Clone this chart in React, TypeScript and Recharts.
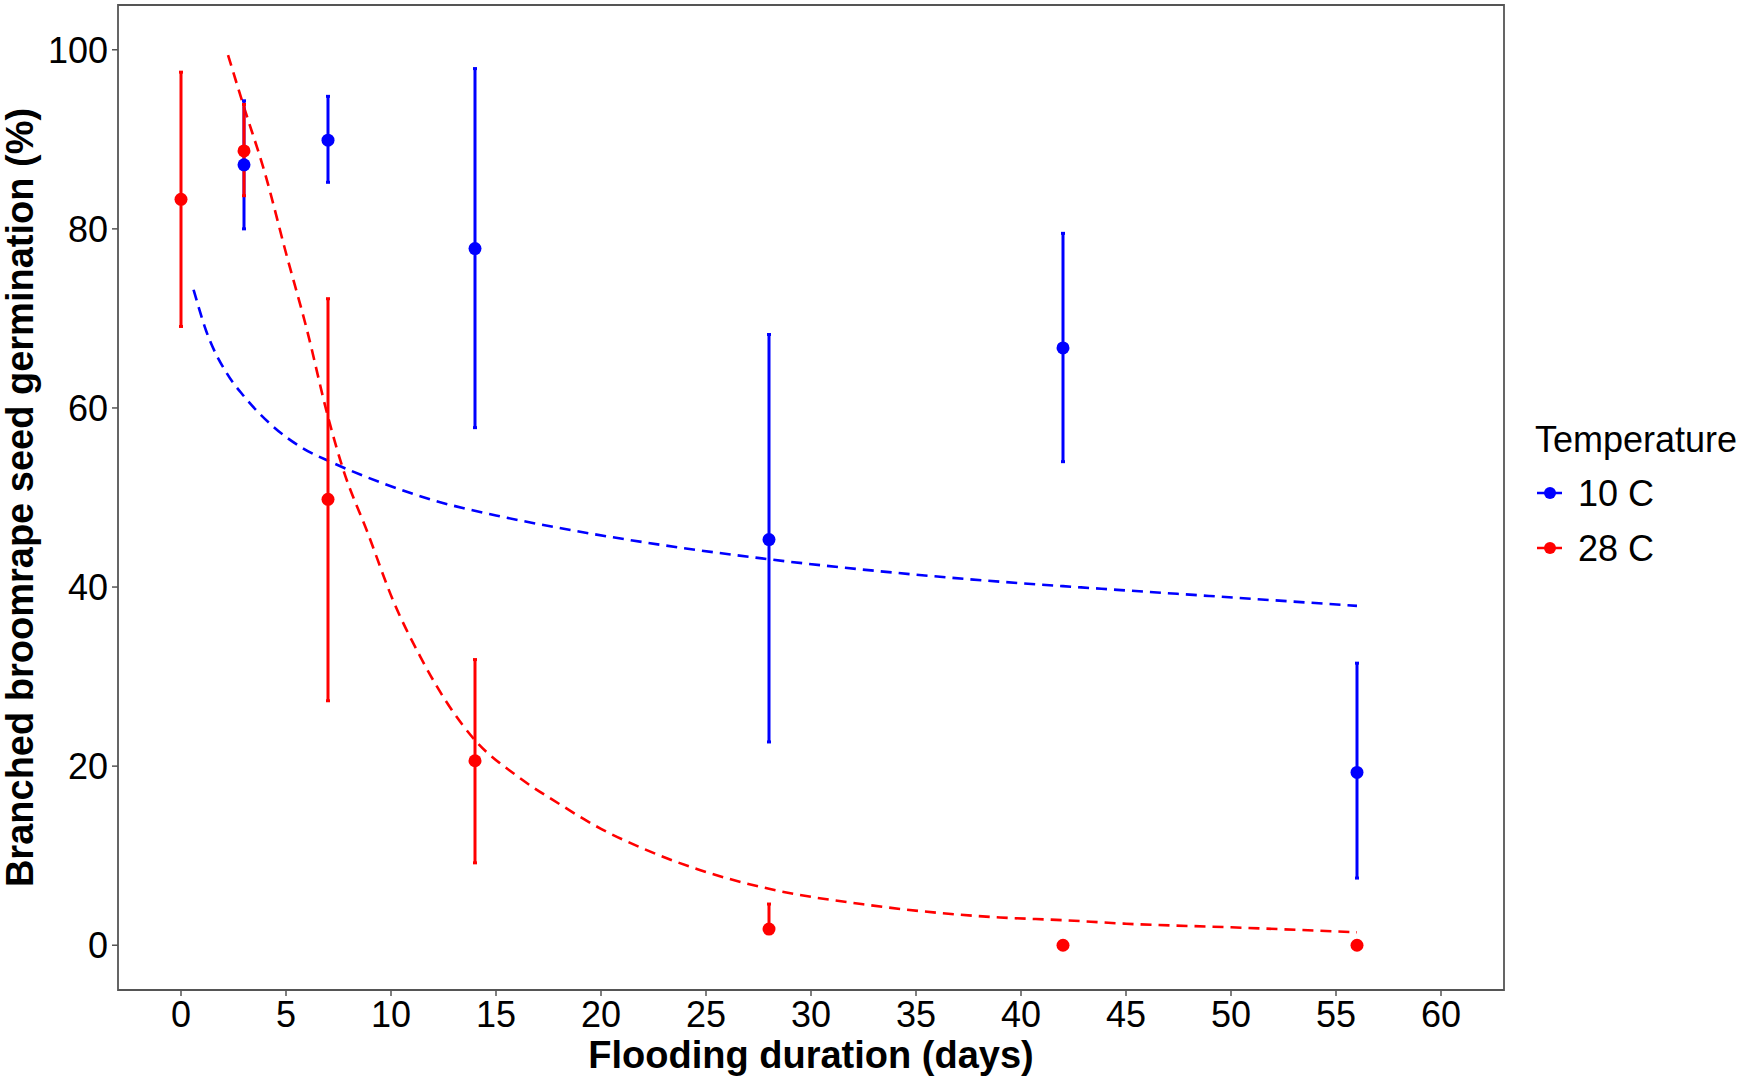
import React from 'react';
import {
  ComposedChart,
  Line,
  Scatter,
  ErrorBar,
  XAxis,
  YAxis,
  Label,
  ReferenceArea,
} from 'recharts';

const BLUE = '#0000FF';
const RED = '#FF0000';
const FONT = '"Liberation Sans", Arial, Helvetica, sans-serif';

// observed means with their error-bar limits
const blueDays = [3, 7, 14, 28, 42, 56];
const blueMean = [87.15, 89.9, 77.8, 45.3, 66.7, 19.3];
const blueLow = [80.0, 85.2, 57.8, 22.7, 54.0, 7.5];
const blueHigh = [94.3, 94.8, 97.9, 68.2, 79.5, 31.5];

const redDays = [0, 3, 7, 14, 28, 42, 56];
const redMean = [83.3, 88.7, 49.8, 20.6, 1.8, 0, 0];
const redLow = [69.1, 83.7, 27.3, 9.2, 1.8, 0, 0];
const redHigh = [97.5, 93.9, 72.2, 31.9, 4.6, 0, 0];

// fitted curves
const blueFitX = [0.6, 1.2, 2.2, 3, 4.4, 5.8, 7.2, 9.6, 12, 15, 18, 21.5, 28, 34, 39, 42, 49, 56];
const blueFitY = [73.2, 68.6, 63.8, 61.3, 57.9, 55.5, 53.9, 51.6, 49.7, 48.0, 46.6, 45.2, 43.1, 41.6, 40.6, 40.1, 39.0, 37.9];

const redFitX = [2.24, 3, 4, 5, 6, 7, 7.7, 8.9, 10.1, 11.4, 12.8, 14, 16, 18, 20, 22, 24.7, 28, 32.7, 39, 42, 45, 50, 56];
const redFitY = [99.4, 93.6, 86.2, 77.3, 68.7, 59.0, 53.3, 46.0, 38.5, 32.2, 26.6, 22.9, 18.9, 15.8, 13.0, 10.8, 8.4, 6.3, 4.5, 3.1, 2.8, 2.4, 2.0, 1.45];

const xTicks = [0, 5, 10, 15, 20, 25, 30, 35, 40, 45, 50, 55, 60];
const yTicks = [0, 20, 40, 60, 80, 100];

const legendItems = [
  { label: '10 C', color: BLUE },
  { label: '28 C', color: RED },
];

const toPoints = (xs: number[], ys: number[], lo: number[], hi: number[]) =>
  xs.map((x, i) => ({ x, y: ys[i], err: [ys[i] - lo[i], hi[i] - ys[i]] }));

const toCurve = (xs: number[], ys: number[]) => xs.map((x, i) => ({ x, y: ys[i] }));

const bluePts = toPoints(blueDays, blueMean, blueLow, blueHigh);
const redPts = toPoints(redDays, redMean, redLow, redHigh);
const blueFit = toCurve(blueFitX, blueFitY);
const redFit = toCurve(redFitX, redFitY);

const dot = (color: string) => (props: any) =>
  <circle cx={props.cx} cy={props.cy} r={6.5} fill={color} />;

const noShape = () => <g />;

const tickStyle = { fontSize: 36, fill: '#000', fontFamily: FONT };
const titleStyle = { fontSize: 38, fontWeight: 700, fill: '#000', fontFamily: FONT };

export default function App() {
  return (
    <div style={{ position: 'absolute', left: 0, top: 0, width: 1750, height: 1076, background: '#fff' }}>
      <ComposedChart width={1750} height={1076} margin={{ top: 5, right: 246, bottom: 0, left: 0 }}>
        <XAxis
          dataKey="x"
          type="number"
          domain={[-3, 63]}
          ticks={xTicks}
          allowDataOverflow
          axisLine={false}
          tickLine={{ stroke: '#555', strokeWidth: 1.5 }}
          tickSize={6}
          tickMargin={5}
          height={86}
          tick={tickStyle}
        >
          <Label value="Flooding duration (days)" position="insideBottom" offset={8} style={titleStyle} />
        </XAxis>
        <YAxis
          type="number"
          domain={[-5, 105]}
          ticks={yTicks}
          allowDataOverflow
          axisLine={false}
          tickLine={{ stroke: '#555', strokeWidth: 1.5 }}
          tickSize={6}
          tickMargin={4}
          width={118}
          tick={tickStyle}
        >
          <Label
            value="Branched broomrape seed germination (%)"
            angle={-90}
            position="insideLeft"
            offset={20}
            style={{ ...titleStyle, textAnchor: 'middle' }}
          />
        </YAxis>
        <ReferenceArea x1={-3} x2={63} y1={-5} y2={105} fill="none" stroke="#555" strokeWidth={1.8} ifOverflow="visible" />

        <Line data={blueFit} dataKey="y" type="monotone" stroke={BLUE} strokeWidth={2.6} strokeDasharray="11 7" dot={false} activeDot={false} isAnimationActive={false} />
        <Line data={redFit} dataKey="y" type="monotone" stroke={RED} strokeWidth={2.6} strokeDasharray="11 7" dot={false} activeDot={false} isAnimationActive={false} />

        <Scatter data={bluePts} dataKey="y" shape={noShape} isAnimationActive={false}>
          <ErrorBar dataKey="err" direction="y" width={2} stroke={BLUE} strokeWidth={3} />
        </Scatter>
        <Scatter data={redPts} dataKey="y" shape={noShape} isAnimationActive={false}>
          <ErrorBar dataKey="err" direction="y" width={2} stroke={RED} strokeWidth={3} />
        </Scatter>
        <Scatter data={bluePts} dataKey="y" shape={dot(BLUE)} isAnimationActive={false} />
        <Scatter data={redPts} dataKey="y" shape={dot(RED)} isAnimationActive={false} />
      </ComposedChart>

      <svg width={1750} height={1076} style={{ position: 'absolute', left: 0, top: 0, pointerEvents: 'none' }}>
        <text x={1535} y={452} fontSize={36} fontFamily={FONT} fill="#000">Temperature</text>
        {legendItems.map((it, i) => {
          const cy = 493 + i * 55;
          return (
            <g key={it.label}>
              <line x1={1537} x2={1562} y1={cy} y2={cy} stroke={it.color} strokeWidth={2.5} />
              <circle cx={1550} cy={cy} r={6} fill={it.color} />
              <text x={1578} y={cy + 13} fontSize={36} fontFamily={FONT} fill="#000">{it.label}</text>
            </g>
          );
        })}
      </svg>
    </div>
  );
}
